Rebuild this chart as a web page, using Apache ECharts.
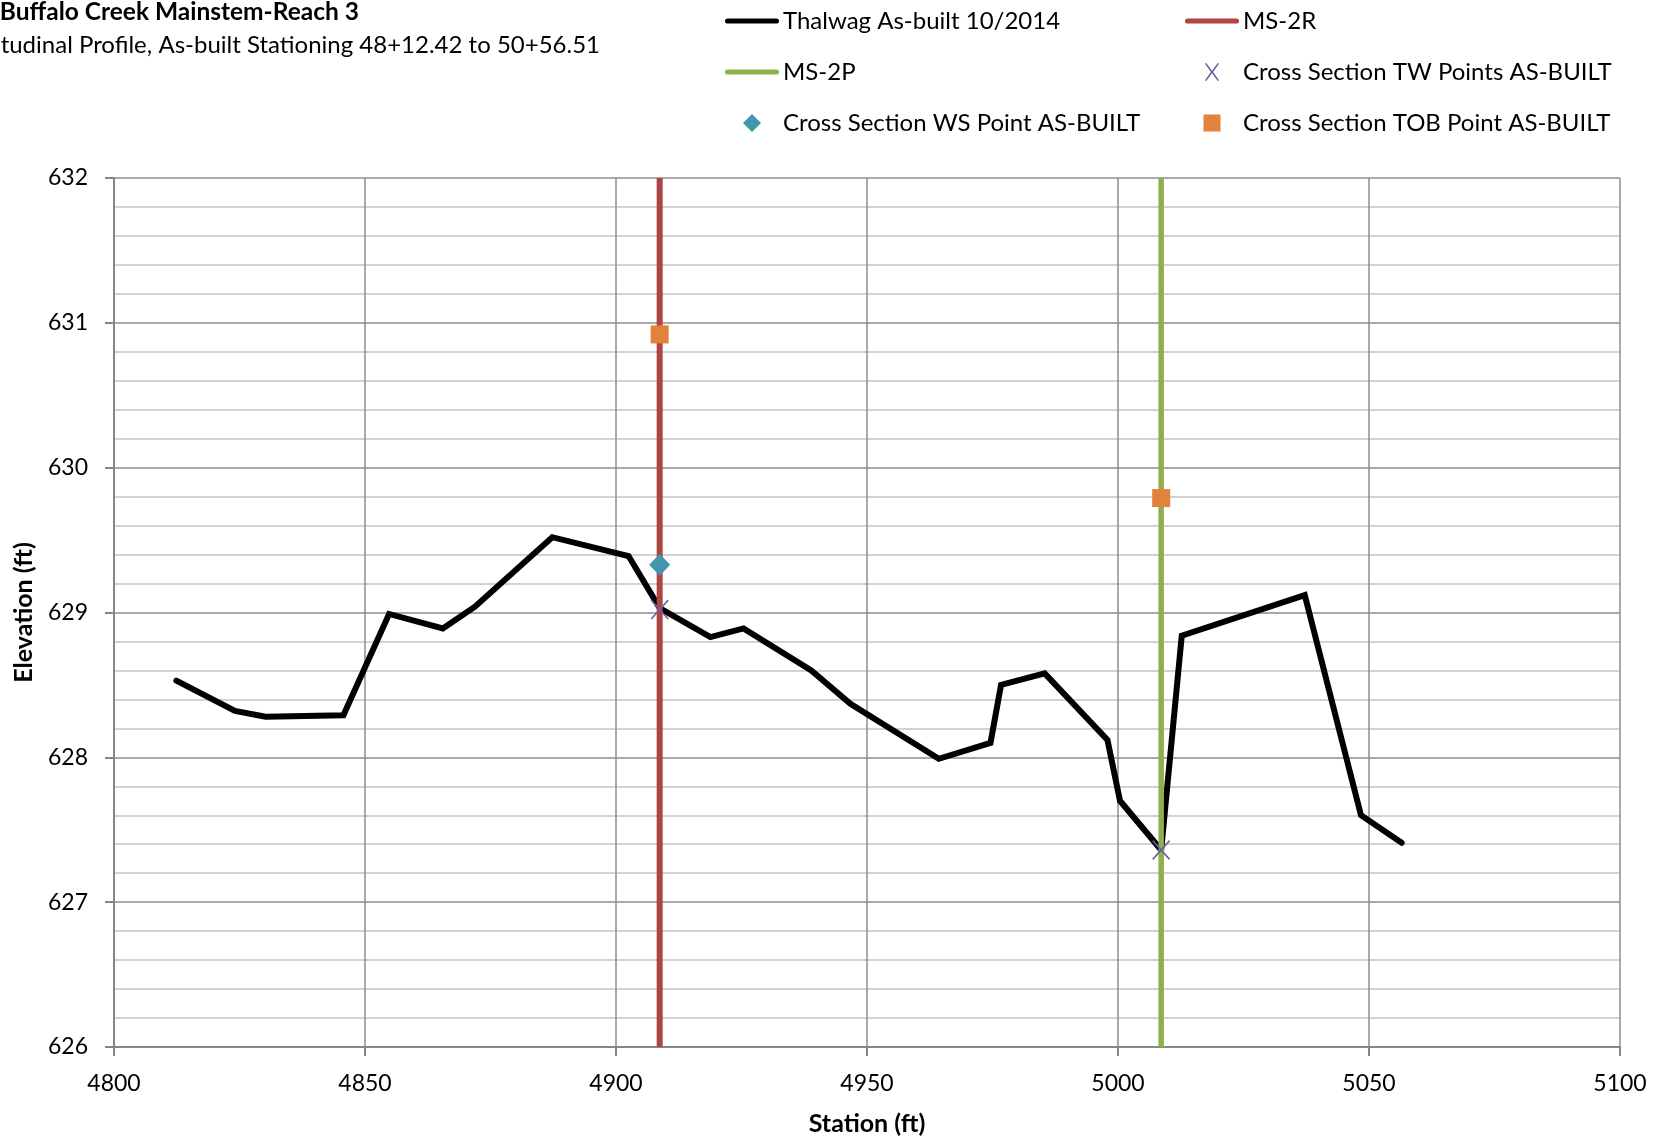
<!DOCTYPE html>
<html>
<head>
<meta charset="utf-8">
<title>Buffalo Creek Mainstem-Reach 3 – Longitudinal Profile</title>
<script src="https://cdn.jsdelivr.net/npm/echarts@6/dist/echarts.min.js"></script>
<style>
  html, body { margin: 0; padding: 0; background: #ffffff; }
  #chart { width: 1665px; height: 1142px; }
</style>
</head>
<body>
<div id="chart"></div>
<script>
// Thalwag survey (station ft, elevation ft)
const thalwagStation = [4812.42, 4824.1, 4830.2, 4845.7, 4854.8, 4865.5, 4871.9, 4887.3, 4902.5, 4908.7,
  4918.8, 4925.4, 4938.9, 4946.7, 4964.3, 4974.6, 4976.7, 4985.4, 4997.9, 5000.4,
  5008.6, 5012.7, 5037.2, 5048.4, 5056.51];
const thalwagElev = [628.53, 628.32, 628.28, 628.29, 628.99, 628.89, 629.04, 629.52, 629.39, 629.03,
  628.83, 628.89, 628.60, 628.37, 627.99, 628.10, 628.50, 628.58, 628.12, 627.70,
  627.36, 628.84, 629.12, 627.60, 627.41];

// Cross-section locations
const ms2rStation = 4908.7;
const ms2pStation = 5008.6;

// Cross-section points
const twStation = [4908.7, 5008.6];
const twElev = [629.02, 627.36];
const wsStation = [4908.7];
const wsElev = [629.33];
const tobStation = [4908.7, 5008.6];
const tobElev = [630.92, 629.79];

// Axis ranges
const xMin = 4800, xMax = 5100, xStep = 50;
const yMin = 626, yMax = 632, yStep = 1;

const seriesNames = [
  'Thalwag As-built 10/2014',
  'MS-2R',
  'MS-2P',
  'Cross Section TW Points AS-BUILT',
  'Cross Section WS Point AS-BUILT',
  'Cross Section TOB Point AS-BUILT'
];

const pairs = (xs, ys) => xs.map((x, i) => [x, ys[i]]);

const FONT = 'Lato, "Open Sans", sans-serif';

// plot marker shapes
const xMark = 'path://M0,6L6,0L50,44L94,0L100,6L56,50L100,94L94,100L50,56L6,100L0,94L44,50Z';

// legend icons: each drawn inside a 54x20 box (zero-area corner points fix the box size)
const box = 'M0,0L0,0ZM54,20L54,20Z';
const iconLine = 'path://' + box + 'M2.6,7.4L51.4,7.4A2.6,2.6 0 0 1 51.4,12.6L2.6,12.6A2.6,2.6 0 0 1 2.6,7.4Z';
const iconDiamond = 'path://' + box + 'M27,1L36,10L27,19L18,10Z';
const iconSquare = 'path://' + box + 'M18.5,1.5L35.5,1.5L35.5,18.5L18.5,18.5Z';
const iconX = 'path://' + box +
  'M20,1.8L21.2,1L27,8.8L32.8,1L34,1.8L28.1,10L34,18.2L32.8,19L27,11.2L21.2,19L20,18.2L25.9,10Z';

const colors = {
  thalwag: '#000000',
  ms2r: '#AD4542',
  ms2p: '#8DB04C',
  tw: '#6F5BA0',
  ws: '#4197AE',
  tob: '#E2823C'
};

// one legend per entry, laid out in two columns
function legendAt(name, icon, left, top) {
  return {
    data: [{ name: name, icon: icon }],
    left: left,
    top: top,
    padding: 0,
    itemWidth: 54,
    itemHeight: 20,
    textStyle: { fontFamily: FONT, fontSize: 24, color: '#000', padding: [0, 0, 0, -1] },
    selectedMode: false
  };
}

const option = {
  backgroundColor: '#ffffff',
  animation: false,
  textStyle: { fontFamily: FONT },
  graphic: [
    {
      type: 'text', x: 359, y: 12,
      style: {
        text: 'Buffalo Creek Mainstem-Reach 3',
        fontFamily: FONT, fontSize: 24.5, fontWeight: 'bold', fill: '#000',
        textAlign: 'right', textVerticalAlign: 'middle'
      }
    },
    {
      type: 'text', x: 600, y: 45,
      style: {
        text: 'Longitudinal Profile, As-built Stationing 48+12.42 to 50+56.51',
        fontFamily: FONT, fontSize: 24, fill: '#000',
        textAlign: 'right', textVerticalAlign: 'middle'
      }
    }
  ],
  legend: [
    legendAt(seriesNames[0], iconLine, 725, 9),
    legendAt(seriesNames[2], iconLine, 725, 60),
    legendAt(seriesNames[4], iconDiamond, 725, 111),
    legendAt(seriesNames[1], iconLine, 1185, 9),
    legendAt(seriesNames[3], iconX, 1185, 60),
    legendAt(seriesNames[5], iconSquare, 1185, 111)
  ],
  grid: { left: 114, right: 45, top: 178, bottom: 95 },
  xAxis: {
    type: 'value',
    min: xMin, max: xMax, interval: xStep,
    name: 'Station (ft)',
    nameLocation: 'middle',
    nameGap: 64,
    nameTextStyle: { fontFamily: FONT, fontSize: 25, fontWeight: 'bold', color: '#000' },
    axisLine: { show: true, onZero: false, lineStyle: { color: '#868686', width: 2 } },
    axisTick: { show: true, length: 9, lineStyle: { color: '#868686', width: 2 } },
    axisLabel: { fontFamily: FONT, fontSize: 23, color: '#000', margin: 25, formatter: v => String(v) },
    splitLine: { show: true, lineStyle: { color: '#8C8C8C', width: 1.5 } }
  },
  yAxis: {
    type: 'value',
    min: yMin, max: yMax, interval: yStep,
    name: 'Elevation (ft)',
    nameLocation: 'middle',
    nameGap: 78,
    nameTextStyle: { fontFamily: FONT, fontSize: 25, fontWeight: 'bold', color: '#000' },
    axisLine: { show: true, onZero: false, lineStyle: { color: '#868686', width: 2 } },
    axisTick: { show: true, length: 9, lineStyle: { color: '#868686', width: 2 } },
    axisLabel: { fontFamily: FONT, fontSize: 23, color: '#000', margin: 26, formatter: v => String(v) },
    splitLine: { show: true, lineStyle: { color: '#8C8C8C', width: 1.5 } },
    minorTick: { show: false, splitNumber: 5 },
    minorSplitLine: { show: true, lineStyle: { color: '#C4C4C4', width: 1.5 } }
  },
  series: [
    {
      name: seriesNames[0],
      type: 'line',
      data: pairs(thalwagStation, thalwagElev),
      symbol: 'none',
      color: colors.thalwag,
      lineStyle: { color: colors.thalwag, width: 6, cap: 'round', join: 'miter' },
      z: 3
    },
    {
      name: seriesNames[1],
      type: 'line',
      data: [[ms2rStation, yMin], [ms2rStation, yMax]],
      symbol: 'none',
      color: colors.ms2r,
      lineStyle: { color: colors.ms2r, width: 6 },
      z: 4
    },
    {
      name: seriesNames[2],
      type: 'line',
      data: [[ms2pStation, yMin], [ms2pStation, yMax]],
      symbol: 'none',
      color: colors.ms2p,
      lineStyle: { color: colors.ms2p, width: 5.5 },
      z: 4
    },
    {
      name: seriesNames[3],
      type: 'scatter',
      data: pairs(twStation, twElev),
      symbol: xMark,
      symbolSize: [18, 20],
      itemStyle: { color: colors.tw, opacity: 1 },
      z: 6
    },
    {
      name: seriesNames[4],
      type: 'scatter',
      data: pairs(wsStation, wsElev),
      symbol: 'diamond',
      symbolSize: [21, 22],
      itemStyle: { color: colors.ws, opacity: 1 },
      z: 6
    },
    {
      name: seriesNames[5],
      type: 'scatter',
      data: pairs(tobStation, tobElev),
      symbol: 'rect',
      symbolSize: 18,
      itemStyle: { color: colors.tob, opacity: 1 },
      z: 6
    }
  ]
};

const chart = echarts.init(document.getElementById('chart'), null, { renderer: 'canvas' });
chart.setOption(option);
</script>
</body>
</html>
